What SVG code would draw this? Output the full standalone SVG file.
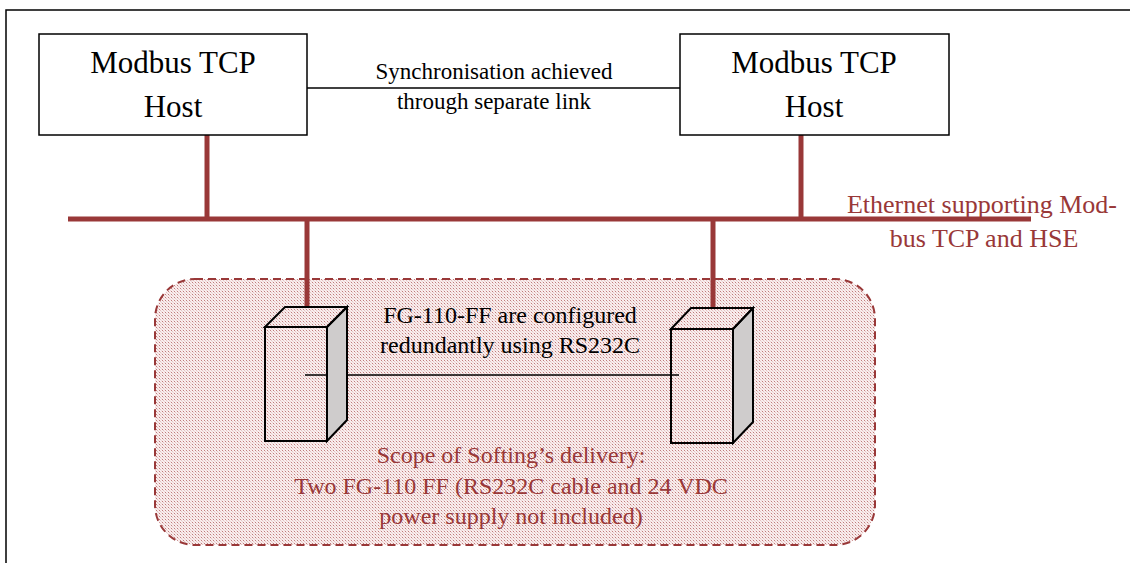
<svg xmlns="http://www.w3.org/2000/svg" width="1130" height="563" viewBox="0 0 1130 563">
<style>
.t{font-family:"Liberation Serif","Times New Roman",serif;text-anchor:middle;fill:#000}
.r{fill:#993838}
.bus{stroke:#993838;stroke-width:5;fill:none}
.box{fill:#fff;stroke:#000;stroke-width:1.5}
.dev{stroke:#000;stroke-width:2;stroke-linejoin:miter}
.ln{stroke:#000;stroke-width:1.5;fill:none}
</style>
<defs>
<pattern id="dots" width="3" height="3" patternUnits="userSpaceOnUse">
<rect width="3" height="3" fill="#f9eeee"/>
<rect x="0" y="0" width="1" height="1" fill="#c07c7c"/>
<rect x="1" y="1" width="1" height="1" fill="#e3c2c2"/>
<rect x="2" y="2" width="1" height="1" fill="#ecd3d3"/>
</pattern>
</defs>
<rect width="1130" height="563" fill="#fff"/>
<rect x="6" y="10" width="1140" height="600" fill="none" stroke="#000" stroke-width="1.5"/>

<g id="scope">
<rect x="155" y="279" width="720" height="266" rx="40" ry="40" fill="url(#dots)" stroke="#993838" stroke-width="2" stroke-dasharray="8,5"/>
<text class="t r" font-size="24" x="511" y="463">Scope of Softing’s delivery:</text>
<text class="t r" font-size="24" x="511" y="494">Two FG-110 FF (RS232C cable and 24 VDC</text>
<text class="t r" font-size="24" x="511" y="524">power supply not included)</text>
</g>

<g id="connectors">
<line class="bus" x1="68" y1="219" x2="1031" y2="219"/>
<line class="bus" x1="207" y1="135" x2="207" y2="219"/>
<line class="bus" x1="801" y1="135" x2="801" y2="219"/>
<line class="bus" x1="307" y1="219" x2="307" y2="307"/>
<line class="bus" x1="713" y1="219" x2="713" y2="308"/>
<line class="ln" x1="307" y1="88" x2="680" y2="88"/>
<line class="ln" x1="305" y1="375" x2="679" y2="375"/>
</g>

<g id="host1">
<rect class="box" x="39" y="34" width="268" height="101"/>
<text class="t" font-size="31" x="173" y="73">Modbus TCP</text>
<text class="t" font-size="31" x="173" y="117">Host</text>
</g>

<g id="host2">
<rect class="box" x="680" y="34" width="269" height="101"/>
<text class="t" font-size="31" x="814" y="73">Modbus TCP</text>
<text class="t" font-size="31" x="814" y="117">Host</text>
</g>

<g id="sync-label">
<text class="t" font-size="23" x="494" y="79">Synchronisation achieved</text>
<text class="t" font-size="23" x="494" y="109">through separate link</text>
</g>

<g id="ethernet-label">
<text class="t r" font-size="26" x="982" y="213">Ethernet supporting Mod-</text>
<text class="t r" font-size="26" x="984" y="247">bus TCP and HSE</text>
</g>

<g id="device1">
<path class="dev" d="M327 327 L347 307 L347 420 L327 441 Z" fill="#cfcccc"/>
<path class="dev" d="M265 327 L285 307 L347 307 L327 327 Z" fill="none"/>
<rect class="dev" x="265" y="327" width="62" height="114" fill="none"/>
</g>

<g id="device2">
<path class="dev" d="M733 329 L753 308 L753 422 L733 443 Z" fill="#cfcccc"/>
<path class="dev" d="M671 329 L691 308 L753 308 L733 329 Z" fill="none"/>
<rect class="dev" x="671" y="329" width="62" height="114" fill="none"/>
</g>

<g id="fg-label">
<text class="t" font-size="24" x="510" y="323">FG-110-FF are configured</text>
<text class="t" font-size="24" x="510" y="353">redundantly using RS232C</text>
</g>
</svg>
